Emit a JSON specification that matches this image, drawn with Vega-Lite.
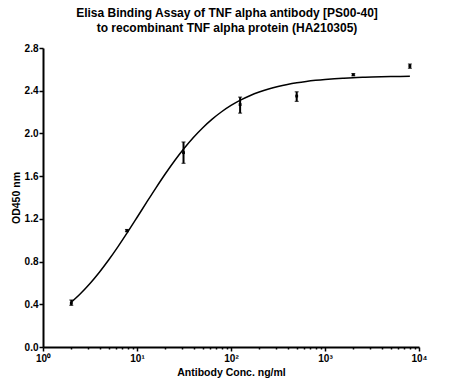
{
  "$schema": "https://vega.github.io/schema/vega-lite/v6.json",
  "width": 376,
  "height": 299,
  "autosize": {"type": "none"},
  "padding": {"left": 43, "top": 48, "right": 31, "bottom": 41},
  "background": "white",
  "config": {
    "view": {"stroke": null},
    "font": "Liberation Sans",
    "axis": {"domainColor": "black", "domainWidth": 2, "tickColor": "black", "tickWidth": 1.5, "labelColor": "black", "titleColor": "black", "labelFont": "Liberation Sans", "titleFont": "Liberation Sans", "labelFontWeight": "bold", "titleFontWeight": "bold", "labelFontSize": 10, "titleFontSize": 10.5, "grid": false}
  },
  "title": {
    "text": ["Elisa Binding Assay of TNF alpha antibody [PS00-40]", "to recombinant TNF alpha protein (HA210305)"],
    "font": "Liberation Sans",
    "fontSize": 12,
    "fontWeight": "bold",
    "color": "black",
    "anchor": "middle",
    "frame": "group",
    "offset": 8,
    "lineHeight": 15,
    "dx": -4
  },
  "datasets": {
    "points": [
      {"conc": 2, "od": 0.41, "lo": 0.39, "hi": 0.44},
      {"conc": 7.8125, "od": 1.09, "lo": 1.08, "hi": 1.10},
      {"conc": 31.25, "od": 1.82, "lo": 1.72, "hi": 1.92},
      {"conc": 125, "od": 2.27, "lo": 2.19, "hi": 2.34},
      {"conc": 500, "od": 2.35, "lo": 2.30, "hi": 2.39},
      {"conc": 2000, "od": 2.55, "lo": 2.54, "hi": 2.56},
      {"conc": 8000, "od": 2.63, "lo": 2.61, "hi": 2.65}
    ],
    "curve": [
      {"conc": 1.995, "od": 0.419},
      {"conc": 2.512, "od": 0.5013},
      {"conc": 3.162, "od": 0.5951},
      {"conc": 3.981, "od": 0.7005},
      {"conc": 5.012, "od": 0.8167},
      {"conc": 6.31, "od": 0.9423},
      {"conc": 7.943, "od": 1.0751},
      {"conc": 10, "od": 1.2125},
      {"conc": 12.59, "od": 1.3513},
      {"conc": 15.85, "od": 1.4881},
      {"conc": 19.95, "od": 1.6199},
      {"conc": 25.12, "od": 1.744},
      {"conc": 31.62, "od": 1.8585},
      {"conc": 39.81, "od": 1.9618},
      {"conc": 50.12, "od": 2.0537},
      {"conc": 63.1, "od": 2.1341},
      {"conc": 79.43, "od": 2.2031},
      {"conc": 100, "od": 2.2622},
      {"conc": 125.9, "od": 2.3119},
      {"conc": 158.5, "od": 2.3534},
      {"conc": 199.5, "od": 2.3878},
      {"conc": 251.2, "od": 2.4163},
      {"conc": 316.2, "od": 2.4396},
      {"conc": 398.1, "od": 2.4587},
      {"conc": 501.2, "od": 2.4743},
      {"conc": 631, "od": 2.4869},
      {"conc": 794.3, "od": 2.4971},
      {"conc": 1000, "od": 2.5055},
      {"conc": 1259, "od": 2.5122},
      {"conc": 1585, "od": 2.5176},
      {"conc": 1995, "od": 2.522},
      {"conc": 2512, "od": 2.5255},
      {"conc": 3162, "od": 2.5283},
      {"conc": 3981, "od": 2.5306},
      {"conc": 5012, "od": 2.5324},
      {"conc": 6310, "od": 2.5339},
      {"conc": 8000, "od": 2.5351}
    ]
  },
  "encoding": {
    "x": {
      "field": "conc",
      "type": "quantitative",
      "scale": {"type": "log", "domain": [1, 10000], "nice": false},
      "axis": {
        "title": "Antibody Conc. ng/ml",
        "values": [1, 2, 3, 4, 5, 6, 7, 8, 9, 10, 20, 30, 40, 50, 60, 70, 80, 90, 100, 200, 300, 400, 500, 600, 700, 800, 900, 1000, 2000, 3000, 4000, 5000, 6000, 7000, 8000, 9000, 10000],
        "labelExpr": "indexof([1,10,100,1000,10000], datum.value) >= 0 ? '10' + ['⁰','¹','²','³','⁴'][indexof([1,10,100,1000,10000], datum.value)] : ''",
        "labelOverlap": false,
        "labelFlush": false,
        "labelPadding": 2,
        "tickSize": {"condition": {"test": "indexof([1,10,100,1000,10000], datum.value) >= 0", "value": 4}, "value": 2},
        "titlePadding": 4
      }
    }
  },
  "layer": [
    {
      "data": {"name": "curve"},
      "mark": {"type": "line", "color": "black", "strokeWidth": 1.5, "interpolate": "monotone"},
      "encoding": {
        "y": {
          "field": "od",
          "type": "quantitative",
          "scale": {"domain": [0, 2.8], "nice": false, "zero": true},
          "axis": {"title": "OD450 nm", "values": [0, 0.4, 0.8, 1.2, 1.6, 2.0, 2.4, 2.8], "format": ".1f", "tickSize": 4, "labelPadding": 1, "titlePadding": 3}
        }
      }
    },
    {
      "data": {"name": "points"},
      "mark": {"type": "rule", "color": "black", "strokeWidth": 2},
      "encoding": {
        "y": {"field": "lo", "type": "quantitative"},
        "y2": {"field": "hi"}
      }
    },
    {
      "data": {"name": "points"},
      "mark": {"type": "tick", "color": "black", "orient": "horizontal", "size": 4, "thickness": 1.2},
      "encoding": {"y": {"field": "lo", "type": "quantitative"}}
    },
    {
      "data": {"name": "points"},
      "mark": {"type": "tick", "color": "black", "orient": "horizontal", "size": 4, "thickness": 1.2},
      "encoding": {"y": {"field": "hi", "type": "quantitative"}}
    },
    {
      "data": {"name": "points"},
      "mark": {"type": "point", "shape": "square", "filled": true, "color": "black", "size": 8, "opacity": 1},
      "encoding": {"y": {"field": "od", "type": "quantitative"}}
    }
  ]
}
